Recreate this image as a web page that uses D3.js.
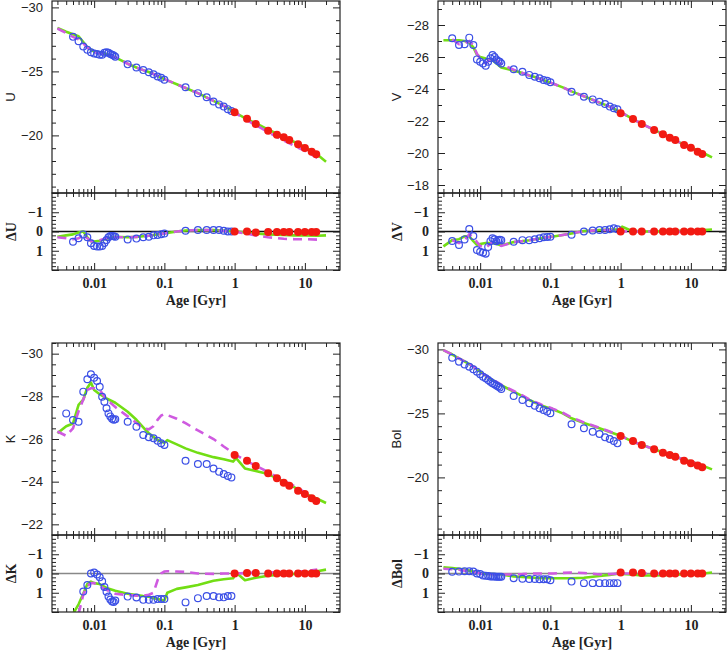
<!DOCTYPE html>
<html>
<head>
<meta charset="utf-8">
<script src="https://cdn.jsdelivr.net/npm/d3@7"></script>
<style>
body { margin: 0; background: #fff; }
</style>
</head>
<body>
<script>
// ages of the young clusters (open circles) and old ones (filled dots), in Gyr
var ageObs = [0.004,0.005,0.006,0.007,0.008,0.009,0.010,0.011,0.012,0.013,0.014,0.015,0.016,0.017,0.018,0.019,0.020,
              0.03,0.04,0.05,0.06,0.07,0.08,0.09,0.1,0.2,0.3,0.4,0.5,0.6,0.7,0.8,0.9];
var ageOld = [1,1.5,2,3,4,5,6,8,10,12.5,14.5];
// ages of the model tracks
var ageMod = [0.003,0.004,0.005,0.006,0.007,0.008,0.009,0.01,0.012,0.015,0.02,0.03,0.04,0.05,0.06,0.07,0.08,0.09,
              0.1,0.11,0.15,0.2,0.3,0.5,0.7,0.95,1.05,1.4,2,3,5,7,10,15,20];

var xTickLabels = [0.01, 0.1, 1, 10];

// ---- U ----
var uObs = [null,-27.7,-27.35,-26.95,-26.7,-26.5,-26.4,-26.35,-26.3,-26.3,-26.45,-26.5,-26.45,-26.35,-26.3,-26.25,-26.15,
            -25.55,-25.3,-25.1,-24.93,-24.77,-24.6,-24.5,-24.35,-23.76,-23.3,-22.98,-22.65,-22.42,-22.25,-22.05,-21.9];
var uOld = [-21.8,-21.31,-20.89,-20.37,-20.05,-19.85,-19.64,-19.3,-19.02,-18.73,-18.52];
var uGreen = [-28.4,-28.1,-27.9,-27.75,-27.3,-26.9,-26.7,-26.55,-26.45,-26.35,-26.1,-25.6,-25.3,-25.1,-24.95,-24.8,-24.65,-24.5,
              -24.4,-24.3,-24.0,-23.7,-23.3,-22.7,-22.3,-21.9,-21.75,-21.35,-20.95,-20.45,-19.9,-19.5,-19.1,-18.5,-17.95];
var uMag = [-28.35,-28.0,-27.7,-27.5,-27.2,-26.85,-26.65,-26.5,-26.4,-26.35,-26.1,-25.6,-25.3,-25.1,-24.95,-24.8,-24.65,-24.5,
            -24.4,-24.3,-24.0,-23.7,-23.3,-22.7,-22.3,-21.9,-21.72,-21.28,-20.8,-20.25,-19.6,-19.2,-18.8,-18.25,null];
var duObs = [null,0.53,0.35,0.15,0.3,0.61,0.75,0.78,0.78,0.75,0.6,0.44,0.3,0.23,0.23,0.25,0.27,
             0.41,0.37,0.3,0.27,0.2,0.18,0.14,0.1,-0.04,-0.08,-0.08,-0.08,-0.08,-0.04,0.0,0.0];
var duOld = [0.0,0.0,0.05,0.02,0.02,0.02,0.02,0.02,0.02,0.02,0.03];
var duGreen = [0.27,0.2,0.15,0.05,0.0,0.3,0.5,0.52,0.48,0.38,0.27,0.3,0.28,0.25,0.22,0.18,0.15,0.12,
               0.1,0.08,0.0,-0.05,-0.07,-0.08,-0.05,-0.02,0.0,0.05,0.1,0.15,0.18,0.2,0.2,0.22,0.2];
var duMag = [0.3,0.35,0.4,0.35,0.2,0.35,0.5,0.5,0.45,0.35,0.3,0.3,0.28,0.25,0.22,0.18,0.15,0.12,
             0.1,0.08,0.0,-0.05,-0.07,-0.07,-0.03,0.0,0.02,0.1,0.2,0.3,0.38,0.4,0.4,0.42,null];

// ---- V ----
var vObs = [-27.17,-26.75,-26.8,-27.21,-26.75,-25.85,-25.7,-25.6,-25.46,-25.7,-25.92,-26.12,-26.0,-25.85,-25.75,-25.7,-25.6,
            -25.23,-25.08,-24.88,-24.77,-24.67,-24.56,-24.52,-24.42,-23.83,-23.52,-23.35,-23.2,-23.06,-22.9,-22.8,-22.73];
var vOld = [-22.48,-22.13,-21.81,-21.44,-21.17,-20.96,-20.81,-20.5,-20.33,-20.08,-19.94];
var vGreen = [-27.05,-27.05,-27.05,-27.0,-26.9,-26.6,-26.15,-26.0,-25.9,-25.8,-25.35,-25.15,-25.0,-24.85,-24.75,-24.65,-24.55,-24.48,
              -24.4,-24.33,-24.1,-23.85,-23.55,-23.15,-22.9,-22.6,-22.5,-22.2,-21.82,-21.45,-20.98,-20.65,-20.35,-20.0,-19.73];
var vMag = [null,-27.1,-26.8,-26.85,-27.0,-26.75,-26.2,-25.9,-25.6,-26.0,-25.55,-25.2,-25.0,-24.85,-24.75,-24.65,-24.55,-24.48,
            -24.4,-24.33,-24.1,-23.85,-23.55,-23.15,-22.9,-22.6,-22.5,-22.2,-21.82,-21.45,-20.98,-20.65,-20.35,-20.0,null];
var dvObs = [0.49,0.7,0.41,-0.13,0.23,0.96,1.05,1.1,1.15,0.8,0.5,0.35,0.4,0.5,0.45,0.43,0.45,
             0.53,0.45,0.45,0.4,0.35,0.3,0.28,0.27,0.17,0.0,-0.05,-0.08,-0.08,-0.12,-0.17,-0.12];
var dvOld = [0.0,0.0,0.0,0.0,0.0,0.0,0.0,0.0,0.0,0.0,0.0];
var dvGreen = [0.77,0.45,0.4,0.25,0.25,0.5,0.7,0.65,0.6,0.6,0.72,0.55,0.5,0.45,0.4,0.37,0.33,0.3,
               0.28,0.26,0.18,0.1,-0.03,-0.08,-0.1,-0.12,-0.25,-0.05,0.0,0.0,-0.02,-0.03,-0.05,-0.07,-0.1];
var dvMag = [null,0.45,0.6,0.45,0.15,0.3,0.55,0.75,0.85,0.55,0.75,0.55,0.5,0.45,0.4,0.37,0.33,0.3,
             0.28,0.26,0.18,0.1,-0.02,-0.07,-0.08,-0.05,0.0,0.0,0.0,0.0,0.02,0.02,0.02,0.02,null];

// ---- K ----
var kObs = [-27.2,-26.89,-26.81,-28.22,-28.8,-29.03,-28.87,-28.72,-28.45,-27.98,-27.75,-27.44,-27.2,-27.06,-26.95,-26.9,-26.92,
            -26.81,-26.58,-26.19,-26.08,-26.03,-25.92,-25.8,-25.72,-24.98,-24.83,-24.83,-24.62,-24.47,-24.36,-24.27,-24.2];
var kOld = [-25.25,-24.98,-24.73,-24.39,-24.16,-23.95,-23.81,-23.58,-23.42,-23.22,-23.09];
var kGreen = [-26.27,-26.6,-26.73,-27.6,-27.85,-28.4,-28.65,-28.3,-28.1,-27.9,-27.7,-27.28,-26.9,-26.55,-26.27,-26.1,-25.95,-25.88,
              -25.82,-25.95,-25.75,-25.56,-25.35,-25.15,-25.05,-24.94,-25.1,-24.62,-24.5,-24.36,-24.0,-23.75,-23.44,-23.2,-23.0];
var kMag = [-26.35,-26.15,-26.5,-27.3,-27.85,-28.3,-28.38,-28.38,-28.3,-27.85,-27.5,-27.06,-26.75,-26.5,-26.45,-26.6,-26.9,-27.1,
            -27.17,-27.12,-26.95,-26.74,-26.4,-26.0,-25.65,-25.35,-25.25,-25.0,-24.75,-24.45,-24.05,-23.8,-23.5,-23.15,null];
var dkObs = [null,null,null,0.94,0.6,0.0,-0.05,0.05,0.2,0.4,0.7,0.95,1.2,1.35,1.45,1.48,1.4,
             1.2,1.25,1.37,1.37,1.37,1.33,1.33,1.33,1.5,1.28,1.17,1.17,1.24,1.24,1.17,1.17];
var dkOld = [0.0,-0.03,-0.03,0.0,0.0,0.0,0.0,0.0,0.0,0.0,0.0];
var dkGreen = [null,null,2.1,1.6,1.05,0.55,0.42,0.5,0.55,0.75,0.9,1.05,1.12,1.17,1.2,1.28,1.33,1.37,
               1.4,1.0,0.8,0.72,0.6,0.38,0.3,0.25,-0.05,0.35,0.22,0.12,0.05,0.02,-0.05,-0.12,-0.2];
var dkMag = [null,null,null,2.1,1.1,0.65,0.5,0.5,0.65,0.85,1.05,1.12,1.15,1.15,1.1,1.0,0.35,0.0,
             -0.1,-0.12,-0.1,-0.08,0.0,0.02,0.0,0.0,0.0,-0.02,-0.05,-0.05,-0.08,-0.1,-0.12,-0.2,null];

// ---- Bol ----
var bObs = [-29.35,-29.04,-28.83,-28.65,-28.45,-28.26,-28.05,-27.87,-27.74,-27.6,-27.47,-27.35,-27.27,-27.17,-27.1,-27.03,-26.91,
            -26.36,-26.05,-25.79,-25.6,-25.4,-25.27,-25.14,-25.01,-24.15,-23.84,-23.57,-23.39,-23.13,-23.0,-22.84,-22.66];
var bOld = [-23.23,-22.84,-22.53,-22.19,-21.93,-21.75,-21.62,-21.3,-21.1,-20.92,-20.79];
var bGreen = [-29.95,-29.6,-29.3,-29.07,-28.85,-28.65,-28.45,-28.25,-27.95,-27.6,-27.2,-26.7,-26.35,-26.05,-25.85,-25.7,-25.55,-25.47,
              -25.4,-25.3,-25.0,-24.62,-24.25,-23.84,-23.55,-23.3,-23.2,-22.85,-22.55,-22.2,-21.77,-21.5,-21.25,-20.9,-20.63];
var bMag = [-29.95,-29.6,-29.3,-29.07,-28.85,-28.65,-28.45,-28.25,-27.97,-27.65,-27.25,-26.75,-26.4,-26.1,-25.9,-25.75,-25.6,-25.52,
            -25.45,-25.35,-25.05,-24.68,-24.3,-23.88,-23.58,-23.3,-23.2,-22.85,-22.55,-22.2,-21.77,-21.5,-21.25,-20.9,null];
var dbObs = [-0.09,-0.1,-0.12,-0.12,-0.1,0.0,0.03,0.1,0.12,0.13,0.15,0.15,0.16,0.17,0.17,0.17,0.17,
             0.25,0.27,0.28,0.28,0.3,0.3,0.3,0.35,0.42,0.5,0.5,0.5,0.5,0.5,0.5,0.5];
var dbOld = [-0.05,-0.05,-0.02,0.0,0.0,0.0,0.0,0.0,0.0,0.0,0.0];
var dbGreen = [-0.32,-0.28,-0.25,-0.2,-0.15,-0.1,-0.05,0.0,0.02,0.03,0.05,0.15,0.18,0.2,0.22,0.23,0.24,0.25,
               0.25,0.25,0.25,0.25,0.22,0.13,0.07,0.0,0.02,0.05,0.1,0.1,0.07,0.05,0.03,0.0,-0.05];
var dbMag = [-0.25,-0.22,-0.2,-0.15,-0.12,-0.08,-0.04,0.0,0.02,0.04,0.05,0.05,0.03,0.0,0.0,0.0,0.0,0.0,
             0.0,0.0,-0.03,-0.05,-0.03,0.05,0.03,0.0,0.0,0.0,0.0,0.0,0.0,0.0,0.0,0.0,null];

var panels = [
  {col:0, row:0, name:"U",   dname:"\u0394U",   dom:[-30.5,-15.5], major:5, minor:1,
   obs:uObs, old:uOld, green:uGreen, mag:uMag, dObs:duObs, dOld:duOld, dGreen:duGreen, dMag:duMag},
  {col:1, row:0, name:"V",   dname:"\u0394V",   dom:[-29.5,-17.5], major:2, minor:1,
   obs:vObs, old:vOld, green:vGreen, mag:vMag, dObs:dvObs, dOld:dvOld, dGreen:dvGreen, dMag:dvMag},
  {col:0, row:1, name:"K",   dname:"\u0394K",   dom:[-30.5,-21.5], major:2, minor:0.5,
   obs:kObs, old:kOld, green:kGreen, mag:kMag, dObs:dkObs, dOld:dkOld, dGreen:dkGreen, dMag:dkMag},
  {col:1, row:1, name:"Bol", dname:"\u0394Bol", dom:[-30.5,-15.5], major:5, minor:1,
   obs:bObs, old:bOld, green:bGreen, mag:bMag, dObs:dbObs, dOld:dbOld, dGreen:dbGreen, dMag:dbMag}
];

var width = 727, height = 651;
var colX = [52, 438], rowY = [1, 343];
var pw = 288, mainH = 192, resH = 77;

var blue = "#3b4fe6", red = "#f21a12", green = "#72de14", magenta = "#cf5ae0";
var sans = "'Liberation Sans', Arial, sans-serif";
var serif = "'Liberation Serif', 'Times New Roman', serif";

var svg = d3.select("body").append("svg")
    .attr("width", width)
    .attr("height", height);

var minus = function(d) { return d < 0 ? "\u2212" + Math.abs(d) : String(d); };
var rnd = function(v) { return Math.round(v * 1000) / 1000; };

// log minor ticks between the decades
var xMinor = [];
[-3,-2,-1,0,1].forEach(function(e) {
  d3.range(2, 10).forEach(function(k) { xMinor.push(rnd(k * Math.pow(10, e))); });
});

function xAxes(g, x, y0, y1, labels) {
  xMinor = xMinor.filter(function(v) { return v >= x.domain()[0] && v <= x.domain()[1]; });
  // bottom (ticks point up)
  var b = g.append("g").attr("transform", "translate(0," + y1 + ")");
  b.call(d3.axisBottom(x).tickValues(xTickLabels).tickSize(-7).tickPadding(8)
          .tickFormat(labels ? function(d) { return String(d); } : ""));
  b.append("g").call(d3.axisBottom(x).tickValues(xMinor).tickSize(-4).tickFormat(""));
  // top (ticks point down)
  var t = g.append("g").attr("transform", "translate(0," + y0 + ")");
  t.call(d3.axisTop(x).tickValues(xTickLabels).tickSize(-7).tickFormat(""));
  t.append("g").call(d3.axisTop(x).tickValues(xMinor).tickSize(-4).tickFormat(""));
  [b, t].forEach(function(a) {
    a.selectAll(".domain").remove();
    a.selectAll("line").attr("stroke", "#222");
    a.selectAll("text").attr("font-family", serif).attr("font-weight", "bold")
      .attr("font-size", 14).attr("fill", "#222");
  });
}

function yAxes(g, y, x0, x1, major, minor, labelVals, font) {
  var l = g.append("g").attr("transform", "translate(" + x0 + ",0)");
  l.call(d3.axisLeft(y).tickValues(major).tickSize(-7).tickPadding(9)
          .tickFormat(function(d) { return labelVals.indexOf(d) >= 0 ? minus(d) : ""; }));
  l.append("g").call(d3.axisLeft(y).tickValues(minor).tickSize(-4).tickFormat(""));
  var r = g.append("g").attr("transform", "translate(" + x1 + ",0)");
  r.call(d3.axisRight(y).tickValues(major).tickSize(-7).tickFormat(""));
  r.append("g").call(d3.axisRight(y).tickValues(minor).tickSize(-4).tickFormat(""));
  [l, r].forEach(function(a) {
    a.selectAll(".domain").remove();
    a.selectAll("line").attr("stroke", "#222");
    a.selectAll("text").attr("font-family", font.family).attr("font-weight", font.weight)
      .attr("font-size", font.size).attr("fill", "#222");
  });
}

function drawData(g, x, y, clipId, obs, old, gr, mg) {
  var d = g.append("g").attr("clip-path", "url(#" + clipId + ")");
  var line = d3.line()
      .defined(function(p) { return p[1] !== null; })
      .x(function(p) { return x(p[0]); })
      .y(function(p) { return y(p[1]); });
  d.append("path")
    .datum(ageMod.map(function(a, i) { return [a, gr[i]]; }))
    .attr("fill", "none").attr("stroke", green).attr("stroke-width", 2.6)
    .attr("stroke-linejoin", "round")
    .attr("d", line);
  d.append("path")
    .datum(ageMod.map(function(a, i) { return [a, mg[i]]; }))
    .attr("fill", "none").attr("stroke", magenta).attr("stroke-width", 2.6)
    .style("stroke-dasharray", "9,6")
    .attr("d", line);
  d.selectAll("circle.obs")
    .data(ageObs.map(function(a, i) { return [a, obs[i]]; }).filter(function(p) { return p[1] !== null; }))
    .enter().append("circle").attr("class", "obs")
    .attr("cx", function(p) { return x(p[0]); })
    .attr("cy", function(p) { return y(p[1]); })
    .attr("r", 3.4)
    .attr("fill", "none").attr("stroke", blue).attr("stroke-width", 1.2);
  d.selectAll("circle.old")
    .data(ageOld.map(function(a, i) { return [a, old[i]]; }))
    .enter().append("circle").attr("class", "old")
    .attr("cx", function(p) { return x(p[0]); })
    .attr("cy", function(p) { return y(p[1]); })
    .attr("r", 4)
    .attr("fill", red);
}

var defs = svg.append("defs");

panels.forEach(function(p, idx) {
  var x0 = colX[p.col], x1 = x0 + pw;
  var top = rowY[p.row], mid = top + mainH, bot = mid + resH;
  var g = svg.append("g");

  var x = d3.scaleLog().domain([Math.pow(10, -2.6), Math.pow(10, 1.5)]).range([x0, x1]);
  var y = d3.scaleLinear().domain(p.dom).range([top, mid]);
  var yr = d3.scaleLinear().domain([-2, 2]).range([mid, bot]);

  defs.append("clipPath").attr("id", "cm" + idx).append("rect")
    .attr("x", x0).attr("y", top).attr("width", pw).attr("height", mainH);
  defs.append("clipPath").attr("id", "cr" + idx).append("rect")
    .attr("x", x0).attr("y", mid).attr("width", pw).attr("height", resH);

  // main panel
  var major = d3.range(Math.ceil(p.dom[0] / p.major) * p.major, p.dom[1] + 1e-6, p.major).map(rnd);
  var minor = d3.range(Math.ceil(p.dom[0] / p.minor) * p.minor, p.dom[1] + 1e-6, p.minor).map(rnd)
      .filter(function(v) { return major.indexOf(v) < 0; });
  yAxes(g, y, x0, x1, major, minor, major, {family: sans, weight: "normal", size: 13});
  xAxes(g, x, top, mid, false);
  drawData(g, x, y, "cm" + idx, p.obs, p.old, p.green, p.mag);

  // residual panel
  var rMajor = [-2, -1, 0, 1, 2];
  var rMinor = d3.range(-2, 2.0001, 0.2).map(rnd).filter(function(v) { return rMajor.indexOf(v) < 0; });
  g.append("line")
    .attr("x1", x0).attr("x2", x1).attr("y1", yr(0)).attr("y2", yr(0))
    .attr("stroke", p.row === 0 ? "#111" : "#888").attr("stroke-width", 1.3);
  yAxes(g, yr, x0, x1, rMajor, rMinor, [-1, 0, 1], {family: serif, weight: "bold", size: 14});
  xAxes(g, x, mid, bot, true);
  drawData(g, x, yr, "cr" + idx, p.dObs, p.dOld, p.dGreen, p.dMag);

  // frames
  g.append("rect").attr("x", x0).attr("y", top).attr("width", pw).attr("height", mainH)
    .attr("fill", "none").attr("stroke", "#222").attr("stroke-width", 1.2);
  g.append("rect").attr("x", x0).attr("y", mid).attr("width", pw).attr("height", resH)
    .attr("fill", "none").attr("stroke", "#222").attr("stroke-width", 1.2);

  // titles
  g.append("text")
    .attr("transform", "translate(" + (x0 - 37) + "," + ((top + mid) / 2) + ") rotate(-90)")
    .attr("text-anchor", "middle")
    .attr("font-family", sans).attr("font-size", 13).attr("fill", "#222")
    .text(p.name);
  g.append("text")
    .attr("transform", "translate(" + (x0 - 36) + "," + ((mid + bot) / 2) + ") rotate(-90)")
    .attr("text-anchor", "middle")
    .attr("font-family", serif).attr("font-weight", "bold").attr("font-size", 14).attr("fill", "#222")
    .text(p.dname);
  g.append("text")
    .attr("x", (x0 + x1) / 2).attr("y", bot + 35)
    .attr("text-anchor", "middle")
    .attr("font-family", serif).attr("font-weight", "bold").attr("font-size", 14).attr("fill", "#222")
    .text("Age [Gyr]");
});
</script>
</body>
</html>
